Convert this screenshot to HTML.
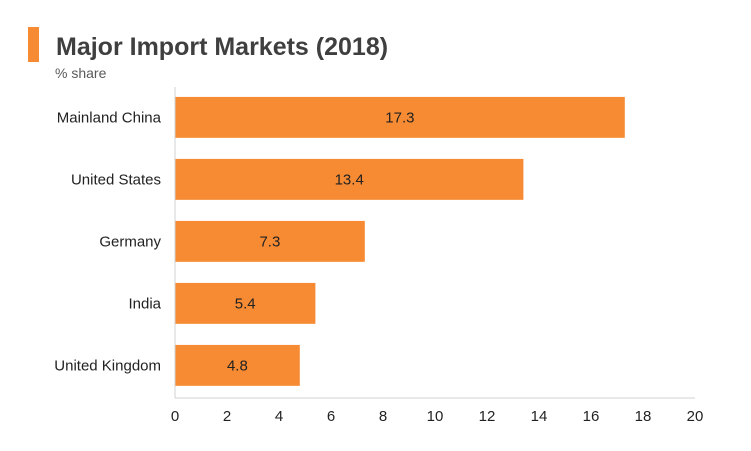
<!DOCTYPE html>
<html><head><meta charset="utf-8"><style>
body{margin:0;background:#fff;}
svg{display:block;font-family:"Liberation Sans",sans-serif;}
</style></head><body>
<svg id="chart" width="751" height="451">
<rect x="28" y="27" width="11" height="35" fill="#f68b33"/>
<text x="56" y="55" font-size="25" font-weight="bold" fill="#3f3f3f">Major Import Markets (2018)</text>
<text x="55" y="78" font-size="14" fill="#595959">% share</text>
<g id="bars"></g>
<g id="axes"></g>
</svg>
<script>
const categories=["Mainland China","United States","Germany","India","United Kingdom"];
const values=[17.3,13.4,7.3,5.4,4.8];
const valueLabels=["17.3","13.4","7.3","5.4","4.8"];
const ticks=[0,2,4,6,8,10,12,14,16,18,20];
const NS="http://www.w3.org/2000/svg";
const x0=175,x1=695,xMax=20,yTop=87,yBot=397;
const xs=v=>x0+(x1-x0)*v/xMax;
const band=(yBot-yTop)/categories.length;
const ys=i=>yTop+band*i+band*0.16;
const bh=band*0.66;
const bars=document.getElementById('bars'),axes=document.getElementById('axes');
function mk(t,a){const e=document.createElementNS(NS,t);for(const k in a)e.setAttribute(k,a[k]);return e;}
categories.forEach((c,i)=>{
 const r=mk('rect',{x:x0,y:ys(i),width:xs(values[i])-x0,height:bh,fill:'#f68b33'});
 
 
 bars.appendChild(r);
 const v=mk('text',{x:(x0+xs(values[i]))/2,y:ys(i)+bh/2+5,'font-size':15,fill:'#222','text-anchor':'middle'});
 v.textContent=valueLabels[i];
 
 
 bars.appendChild(v);
 const l=mk('text',{x:161,y:ys(i)+bh/2+5,'font-size':15,fill:'#222','text-anchor':'end'});
 l.textContent=c;
 
 
 axes.appendChild(l);
});
const ya=mk('line',{x1:x0,y1:yTop,x2:x0,y2:yBot+1,stroke:'#d0d0d0'});


axes.appendChild(ya);
const xa=mk('line',{x1:x0,y1:yBot+1,x2:x1,y2:yBot+1,stroke:'#d0d0d0'});


axes.appendChild(xa);
ticks.forEach(t=>{
 const e=mk('text',{x:xs(t),y:421,'font-size':15,fill:'#222','text-anchor':'middle'});
 e.textContent=t;
 
 
 axes.appendChild(e);
});
</script>
</body></html>
